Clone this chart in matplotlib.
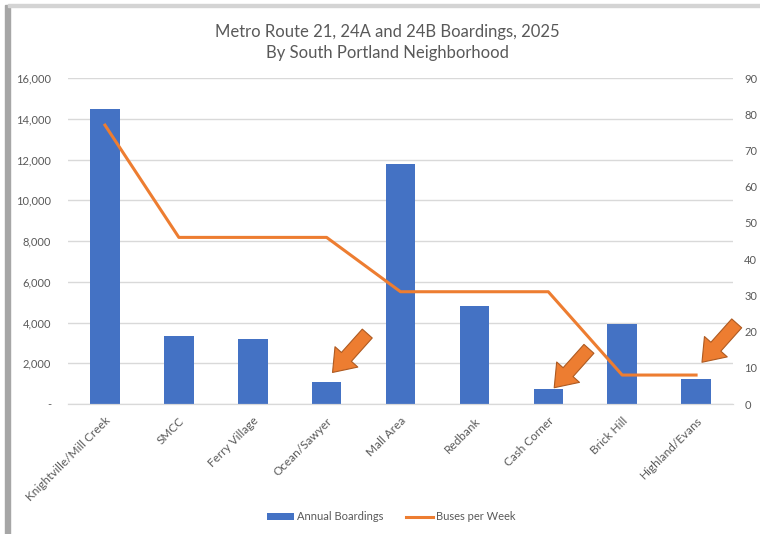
import matplotlib
matplotlib.use('Agg')
import matplotlib.pyplot as plt
from matplotlib.patches import Rectangle, Patch
from matplotlib.lines import Line2D
from matplotlib.ticker import FuncFormatter

plt.rcParams['font.family'] = ['Lato', 'DejaVu Sans']

# Data
neighborhoods = ['Knightville/Mill Creek', 'SMCC', 'Ferry Village', 'Ocean/Sawyer',
                 'Mall Area', 'Redbank', 'Cash Corner', 'Brick Hill', 'Highland/Evans']
annual_boardings = [14500, 3350, 3200, 1100, 11800, 4800, 750, 3950, 1250]
buses_per_week = [77, 46, 46, 46, 31, 31, 31, 8, 8]

# arrows point at these neighbourhoods (index, boardings level of arrow tip)
arrow_targets = [(3, 1550), (6, 800), (8, 2050)]

blue = '#4472C4'
orange = '#ED7D31'
grey = '#595959'
grid_c = '#D9D9D9'

fig = plt.figure(figsize=(7.6, 5.34), dpi=100)
ax = fig.add_axes([0.0895, 0.2434, 0.875, 0.6105])
ax2 = ax.twinx()

x = range(len(neighborhoods))
ax.bar(x, annual_boardings, width=0.4, color=blue, zorder=2)
ax2.plot(x, buses_per_week, color=orange, lw=2.2, zorder=3)

ax.set_xlim(-0.5, len(neighborhoods) - 0.5)
ax.set_ylim(0, 16000)
ax.set_yticks(range(0, 16001, 2000))
ax.yaxis.set_major_formatter(FuncFormatter(lambda v, p: '-' if v == 0 else f'{int(v):,}'))
ax2.set_ylim(0, 90)
ax2.set_yticks(range(0, 91, 10))

ax.grid(axis='y', color=grid_c, lw=1, zorder=0)
ax.set_axisbelow(True)
for a in (ax, ax2):
    for s in ('top', 'left', 'right'):
        a.spines[s].set_visible(False)
    a.spines['bottom'].set_color(grid_c)
    a.tick_params(length=0, colors=grey, labelsize=8)
ax.tick_params(axis='y', pad=12)
ax2.tick_params(axis='y', pad=8)

ax.set_xticks(list(x))
ax.set_xticklabels(neighborhoods, rotation=45, ha='right', rotation_mode='anchor', fontsize=8.5)
ax.tick_params(axis='x', pad=8)

for i, yv in arrow_targets:
    ax.annotate('', xy=(i + 0.08, yv), xytext=(25, 28), textcoords='offset points',
                arrowprops=dict(arrowstyle='simple,head_length=0.75,head_width=1.1,tail_width=0.48',
                                mutation_scale=20, fc=orange, ec='#AE5A21', lw=0.8,
                                shrinkA=0, shrinkB=0), zorder=5, annotation_clip=False)

fig.text(0.51, 0.92, 'Metro Route 21, 24A and 24B Boardings, 2025\nBy South Portland Neighborhood',
         ha='center', va='center', fontsize=12, color=grey, linespacing=1.4)

handles = [Patch(facecolor=blue), Line2D([0], [0], color=orange, lw=2.2)]
fig.legend(handles, ['Annual Boardings', 'Buses per Week'], loc='center',
           bbox_to_anchor=(0.515, 0.032), ncol=2, frameon=False, fontsize=8,
           labelcolor=grey, handlelength=2.4, handleheight=0.5, columnspacing=2.0,
           handletextpad=0.3)

# window shadow on the left and top edges
fig.patches.append(Rectangle((5 / 760, 0), 5 / 760, 1 - 5 / 534, transform=fig.transFigure,
                             color='#A6A6A6', zorder=0))
fig.patches.append(Rectangle((8 / 760, 1 - 7 / 534), 1, 3 / 534, transform=fig.transFigure,
                             color='#D4D4D4', zorder=0))

fig.savefig('out.png', dpi=100)
